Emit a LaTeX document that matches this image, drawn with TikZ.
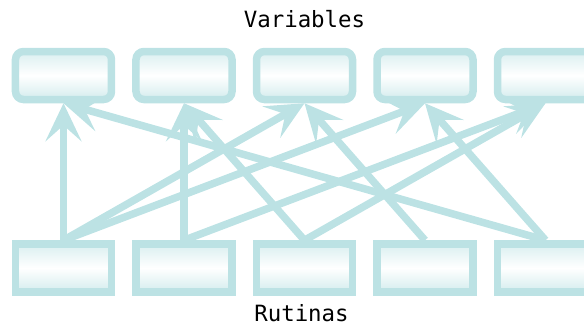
\documentclass[tikz,border=0pt]{standalone}
\usepackage{fontspec}
\setmonofont{DejaVu Sans Mono}
\usetikzlibrary{positioning,arrows.meta}
\definecolor{linkcol}{RGB}{188,226,228}

\begin{document}
\begin{tikzpicture}
  [node distance=8.5pt,
   box/.style={draw=linkcol, line width=3.75pt, minimum width=48pt, minimum height=24pt,
               top color=linkcol!55!white, bottom color=linkcol!65!white, middle color=white},
   var/.style={box, rounded corners=4pt},
   rut/.style={box},
   link/.style={draw=linkcol, line width=3.75pt, -{Stealth[length=19pt,width=18pt,inset=8pt]}},
   label/.style={inner sep=0pt, font=\ttfamily\fontsize{11.2}{13}\selectfont}]
  \useasboundingbox (-31.75pt,-125.75pt) rectangle (260.25pt,37.75pt);
  % variables
  \node[var] (t1) at (0,0) {};
  \node[var] (t2) [right=of t1] {};
  \node[var] (t3) [right=of t2] {};
  \node[var] (t4) [right=of t3] {};
  \node[var] (t5) [right=of t4] {};
  % rutinas
  \node[rut] (b1) [below=68.5pt of t1] {};
  \node[rut] (b2) [right=of b1] {};
  \node[rut] (b3) [right=of b2] {};
  \node[rut] (b4) [right=of b3] {};
  \node[rut] (b5) [right=of b4] {};
  \node[label] (vars) [above=10pt of t3, anchor=base] {Variables};
  \node[label] (ruts) [below=13pt of b3, anchor=base, xshift=-1.5pt] {Rutinas};
  \foreach \s/\t in {1/1,1/3,1/4,2/2,2/5,3/2,3/5,4/3,5/1,5/4}
    \draw[link] (b\s.north) -- (t\t.south);
\end{tikzpicture}
\end{document}
